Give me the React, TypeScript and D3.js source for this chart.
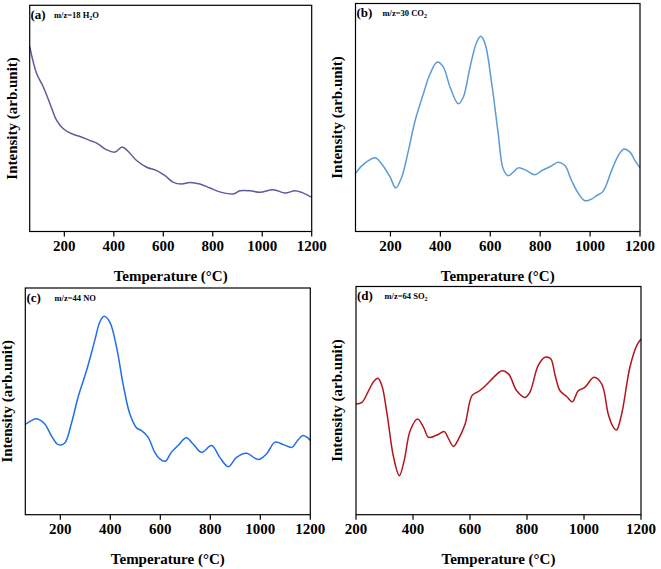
import React from "react";
import * as d3 from "d3";

// Temperature (°C) samples and intensity (arb. units, 0-100 of frame height)
const h2oTemp = [60, 88, 115, 142, 169, 196, 230, 263, 297, 331, 371, 405, 432, 452, 492, 533, 573, 607, 641, 674, 708, 748, 789, 836, 883, 910, 951, 991, 1045, 1092, 1132, 1159, 1200];
const h2oVal = [81.7, 69.8, 63.9, 56.5, 49.1, 45.4, 43.2, 42.0, 40.5, 39.1, 36.1, 35.1, 37.3, 36.1, 31.4, 28.4, 26.9, 24.7, 21.7, 21.0, 21.7, 21.0, 19.2, 17.3, 16.6, 18.0, 18.0, 17.3, 18.5, 17.0, 18.0, 17.3, 15.1];

const co2Temp = [60, 86, 112, 139, 165, 199, 221, 245, 272, 299, 332, 359, 388, 412, 439, 472, 492, 519, 546, 562, 579, 606, 632, 652, 672, 692, 712, 746, 779, 806, 839, 873, 899, 926, 953, 979, 1006, 1026, 1052, 1086, 1113, 1136, 1160, 1180, 1200];
const co2Val = [25.5, 28.9, 31.1, 32.3, 29.6, 23.8, 19.1, 23.8, 35.5, 48.7, 60.4, 69.2, 74.3, 72.1, 63.3, 56.0, 58.9, 72.1, 83.1, 85.6, 82.4, 64.8, 42.8, 27.4, 24.5, 26.0, 27.9, 26.7, 24.9, 26.7, 28.4, 30.4, 28.9, 22.3, 16.7, 13.5, 14.2, 15.7, 17.6, 26.7, 33.3, 36.2, 34.8, 31.1, 27.9];

const noTemp = [60, 84, 104, 137, 164, 191, 217, 244, 271, 305, 338, 358, 375, 398, 425, 451, 478, 505, 525, 551, 578, 598, 620, 644, 671, 704, 731, 765, 805, 838, 872, 905, 945, 992, 1025, 1059, 1093, 1126, 1149, 1170, 1186, 1200];
const noVal = [39.8, 41.5, 42.3, 40.1, 34.9, 30.9, 31.5, 40.1, 51.8, 63.6, 76.9, 85.0, 87.5, 85.0, 73.9, 57.7, 44.5, 38.3, 37.1, 34.2, 27.5, 24.6, 23.6, 27.5, 30.5, 33.9, 31.2, 27.5, 30.5, 25.3, 21.2, 25.3, 27.1, 24.3, 26.8, 32.0, 30.9, 29.7, 32.7, 34.9, 34.2, 32.7];

const so2Temp = [200, 221, 244, 262, 277, 291, 309, 332, 352, 369, 390, 416, 437, 455, 484, 510, 525, 542, 560, 583, 607, 631, 654, 683, 712, 735, 764, 793, 810, 839, 863, 883, 899, 916, 940, 959, 980, 1003, 1035, 1062, 1085, 1100, 1114, 1132, 1161, 1185, 1200];
const so2Val = [48.5, 49.2, 54.3, 58.4, 59.8, 56.5, 44.1, 25.1, 17.1, 23.7, 36.8, 41.9, 38.3, 33.9, 34.9, 36.4, 33.2, 29.9, 33.2, 39.7, 52.2, 54.1, 56.5, 60.2, 63.1, 61.7, 54.3, 51.4, 53.6, 65.3, 69.0, 68.3, 60.9, 54.3, 51.7, 49.5, 54.3, 55.8, 60.2, 57.3, 44.1, 39.0, 37.1, 44.1, 64.6, 74.1, 77.0];

const ticksWide = [200, 400, 600, 800, 1000, 1200];
const panelLetters = ["(a)", "(b)", "(c)", "(d)"];
const speciesMain = ["m/z=18 H", "m/z=30 CO", "m/z=44 NO", "m/z=64 SO"];
const speciesSub = ["2", "2", "", "2"];
const speciesTail = ["O", "", "", ""];
const xMins = [60, 60, 60, 200];
const colors = ["#5b5ba3", "#5b9bd5", "#1f6fe6", "#b3151c"];

const FONT = "'Liberation Serif', 'Times New Roman', serif";

type Frame = { l: number; r: number; t: number; b: number; ylx: number; labX: number; specX: number };
const frames: Frame[] = [
  { l: 29.7, r: 311.7, t: 5.3, b: 231.5, ylx: 12, labX: 30.5, specX: 54 },
  { l: 355.5, r: 640, t: 3.5, b: 231.5, ylx: 337, labX: 356.5, specX: 382.5 },
  { l: 25.3, r: 310.3, t: 288, b: 514.7, ylx: 7, labX: 26.5, specX: 54.5 },
  { l: 356, r: 641, t: 286.5, b: 514.7, ylx: 337, labX: 357, specX: 384.5 },
];

const temps = [h2oTemp, co2Temp, noTemp, so2Temp];
const vals = [h2oVal, co2Val, noVal, so2Val];

function Panel({ i }: { i: number }) {
  const f = frames[i];
  const x = d3.scaleLinear().domain([xMins[i], 1200]).range([f.l, f.r]);
  const y = d3.scaleLinear().domain([0, 100]).range([f.b, f.t]);
  const pts: [number, number][] = temps[i].map((t, k) => [t, vals[i][k]]);
  const line = d3
    .line<[number, number]>()
    .x((d) => x(d[0]))
    .y((d) => y(d[1]))
    .curve(d3.curveCatmullRom.alpha(0.5));
  const d = line(pts) || "";
  const cy = (f.t + f.b) / 2;
  const cx = (f.l + f.r) / 2;
  return (
    <g>
      <path d={d} fill="none" stroke={colors[i]} strokeWidth={1.5} />
      <rect x={f.l} y={f.t} width={f.r - f.l} height={f.b - f.t} fill="none" stroke="#000" strokeWidth={1.2} />
      {ticksWide.map((t) => (
        <g key={t}>
          <line x1={x(t)} x2={x(t)} y1={f.b} y2={f.b + 5} stroke="#000" strokeWidth={1.2} />
          <text x={x(t)} y={f.b + 19} textAnchor="middle" fontFamily={FONT} fontWeight="bold" fontSize={15}>
            {t}
          </text>
        </g>
      ))}
      <text x={cx} y={f.b + 49} textAnchor="middle" fontFamily={FONT} fontWeight="bold" fontSize={15}>
        Temperature (°C)
      </text>
      <text
        transform={`translate(${f.ylx},${cy}) rotate(-90)`}
        textAnchor="middle"
        dominantBaseline="central"
        fontFamily={FONT}
        fontWeight="bold"
        fontSize={15}
      >
        Intensity (arb.unit)
      </text>
      <text x={f.labX} y={f.t + 13.5} fontFamily={FONT} fontWeight="bold" fontSize={13}>
        {panelLetters[i]}
      </text>
      <text x={f.specX} y={f.t + 12.5} fontFamily={FONT} fontWeight="bold" fontSize={8.5}>
        {speciesMain[i]}
        {speciesSub[i] ? (
          <tspan fontSize={6} dy={2}>
            {speciesSub[i]}
          </tspan>
        ) : null}
        {speciesTail[i] ? <tspan dy={-2}>{speciesTail[i]}</tspan> : null}
      </text>
    </g>
  );
}

export default function App() {
  return (
    <svg
      width={661}
      height={569}
      viewBox="0 0 661 569"
      style={{ position: "absolute", left: 0, top: 0, background: "#fff" }}
    >
      <rect x={0} y={0} width={661} height={569} fill="#fff" />
      {[0, 1, 2, 3].map((i) => (
        <Panel key={i} i={i} />
      ))}
    </svg>
  );
}
